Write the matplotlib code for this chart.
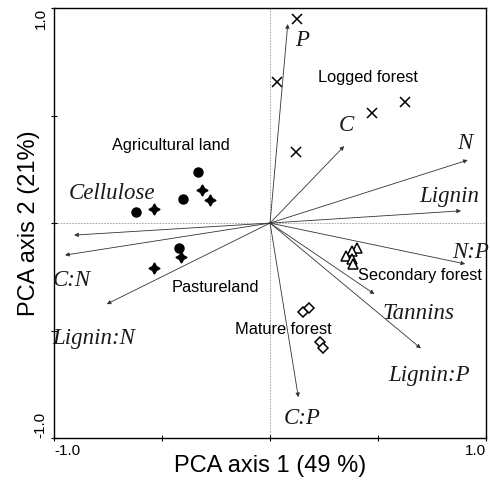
import matplotlib
matplotlib.use("Agg")
import matplotlib.pyplot as plt

# variable loadings (arrow tips) and label positions
var_names = ["P", "C", "N", "Lignin", "N:P", "Tannins", "Lignin:P", "C:P",
             "Cellulose", "C:N", "Lignin:N"]
var_x = [0.082, 0.343, 0.915, 0.884, 0.903, 0.483, 0.698, 0.131, -0.907, -0.949, -0.756]
var_y = [0.926, 0.358, 0.293, 0.057, -0.19, -0.33, -0.583, -0.81, -0.056, -0.149, -0.377]
lab_x = [0.15, 0.353, 0.901, 0.829, 0.929, 0.687, 0.736, 0.15, -0.733, -0.917, -0.818]
lab_y = [0.848, 0.456, 0.371, 0.122, -0.138, -0.42, -0.71, -0.908, 0.138, -0.265, -0.536]

# site scores per land use
logged_x = [0.126, 0.034, 0.12, 0.474, 0.625]
logged_y = [0.949, 0.657, 0.332, 0.51, 0.564]
agri_x = [-0.332, -0.404, -0.622, -0.42]
agri_y = [0.239, 0.112, 0.053, -0.115]
pasture_x = [-0.537, -0.316, -0.278, -0.413, -0.537]
pasture_y = [0.064, 0.154, 0.106, -0.157, -0.21]
second_x = [0.404, 0.378, 0.352, 0.378, 0.386]
second_y = [-0.115, -0.131, -0.151, -0.168, -0.192]
mature_x = [0.154, 0.181, 0.231, 0.247]
mature_y = [-0.413, -0.397, -0.552, -0.58]

groups = ["Logged forest", "Agricultural land", "Pastureland", "Secondary forest", "Mature forest"]
group_x = [0.455, -0.46, -0.255, 0.694, 0.062]
group_y = [0.676, 0.36, -0.302, -0.245, -0.493]

fig = plt.figure(figsize=(4.91, 4.80), dpi=100)
ax = fig.add_axes([0.11, 0.0875, 0.88, 0.8955])
ax.set_xlim(-1, 1)
ax.set_ylim(-1, 1)

ax.axhline(0, color="#999999", lw=0.6, ls=(0, (2, 1.5)), zorder=1)
ax.axvline(0, color="#999999", lw=0.6, ls=(0, (2, 1.5)), zorder=1)

for name, vx, vy, lx, ly in zip(var_names, var_x, var_y, lab_x, lab_y):
    ax.annotate("", xy=(vx, vy), xytext=(0, 0),
                arrowprops=dict(arrowstyle="-|>", mutation_scale=6, lw=0.6,
                                color="#333333", shrinkA=0, shrinkB=0))
    ax.text(lx, ly, name, family="Liberation Serif", style="italic",
            fontsize=16.5, ha="center", va="center", color="#1a1a1a")

ax.plot(logged_x, logged_y, "x", color="black", ms=7, mew=1.1, ls="none")
ax.plot(agri_x, agri_y, "o", color="black", ms=6.5, ls="none")
ax.plot(pasture_x, pasture_y, marker=(4, 1, 0), color="black", ms=8, ls="none")
ax.plot(second_x, second_y, "^", mfc="white", mec="black", ms=6.5, mew=1.1, ls="none")
ax.plot(mature_x, mature_y, "D", mfc="white", mec="black", ms=5.5, mew=1.1, ls="none")

for g, gx, gy in zip(groups, group_x, group_y):
    ax.text(gx, gy, g, family="Liberation Sans", fontsize=11.8, ha="center", va="center")

ax.set_xticks([-1, -0.5, 0, 0.5, 1])
ax.set_xticklabels(["-1.0", "", "", "", "1.0"])
ax.set_yticks([-1, -0.5, 0, 0.5, 1])
ax.set_yticklabels(["-1.0", "", "", "", "1.0"], rotation=90)
ax.tick_params(direction="inout", length=5, width=0.8, labelsize=11, pad=2)
for lab, ha in zip(ax.get_xticklabels(), ["left", "center", "center", "center", "right"]):
    lab.set_ha(ha)
for lab, va in zip(ax.get_yticklabels(), ["bottom", "center", "center", "center", "top"]):
    lab.set_va(va)
for lab in ax.get_xticklabels() + ax.get_yticklabels():
    lab.set_family("Liberation Sans")

for s in ax.spines.values():
    s.set_linewidth(1.0)

ax.set_xlabel("PCA axis 1 (49 %)", family="Liberation Sans", fontsize=17, va="center")
ax.set_ylabel("PCA axis 2 (21%)", family="Liberation Sans", fontsize=17, va="center")
ax.xaxis.set_label_coords(0.5, -0.064)
ax.yaxis.set_label_coords(-0.058, 0.5)

fig.savefig("out.png", dpi=100, facecolor="white")
